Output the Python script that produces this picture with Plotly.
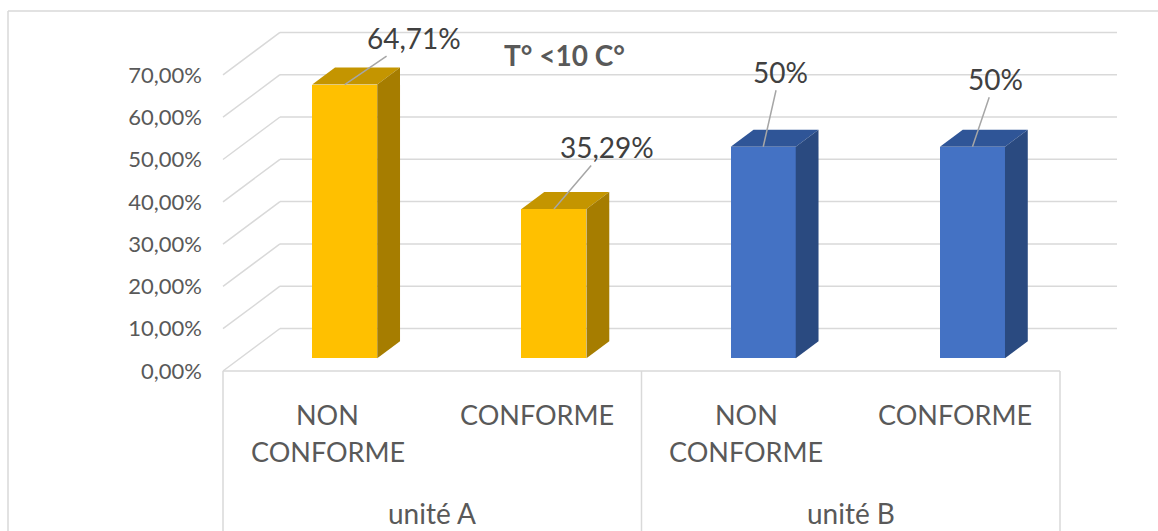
import plotly.graph_objects as go

# ---------------- data ----------------
CATEGORIES = ["NON CONFORME", "CONFORME", "NON CONFORME", "CONFORME"]
GROUPS = ["unité A", "unité B"]
VALUES = [64.71, 35.29, 50, 50]
Y_TICKS = [0, 10, 20, 30, 40, 50, 60, 70]
TITLE = "T° <10 C°"

# ---------------- style ----------------
FRONT = ["#FFC000", "#FFC000", "#4472C4", "#4472C4"]
TOP = ["#C49500", "#C49500", "#2F5597", "#2F5597"]
SIDE = ["#A67D00", "#A67D00", "#2A4A80", "#2A4A80"]
LABEL_OFFSETS = [(69, -47), (53, -62), (17, -75), (23, -68)]  # pixel offsets of data labels
GRID = "#D9D9D9"
FONT = "Lato"

W_FIG, H_FIG = 1158, 531
L_MARGIN = 205
X0_PX, CAT_PX = 223.0, 209.25      # left edge of category band, px per category
Y0_PX, PCT_PX = 371.0, 4.23        # pixel of 0 %, px per percent
DEPTH_DX = 57.0 / CAT_PX           # depth offset in category units
DEPTH_DV = 42.5 / PCT_PX           # depth offset in percent units
BAR_D0, BAR_D1 = 0.3, 0.7          # bar depth span
BAR_W = 65.0 / CAT_PX


def x_of_px(px):
    return (px - X0_PX) / CAT_PX - 0.5


def y_of_px(py):
    return (Y0_PX - py) / PCT_PX


n = len(CATEGORIES)
x_left, x_right = -0.5, n - 0.5
x_range = [x_of_px(L_MARGIN), x_of_px(W_FIG)]
y_range = [y_of_px(H_FIG), y_of_px(0)]

fig = go.Figure()

# front faces of bars (real bar trace)
bar_x = [i + BAR_D0 * DEPTH_DX for i in range(n)]
fig.add_trace(go.Bar(
    x=bar_x, y=VALUES, base=[BAR_D0 * DEPTH_DV] * n, width=BAR_W,
    marker=dict(color=FRONT, line=dict(width=0)), hoverinfo="skip", showlegend=False,
))

# top and side faces
dd = BAR_D1 - BAR_D0
for i, v in enumerate(VALUES):
    xl = bar_x[i] - BAR_W / 2
    xr = bar_x[i] + BAR_W / 2
    base = BAR_D0 * DEPTH_DV
    top = v + base
    ox, oy = dd * DEPTH_DX, dd * DEPTH_DV
    fig.add_trace(go.Scatter(
        x=[xl, xr, xr + ox, xl + ox, xl], y=[top, top, top + oy, top + oy, top],
        fill="toself", fillcolor=TOP[i], mode="lines", line=dict(width=0, color=TOP[i]),
        hoverinfo="skip", showlegend=False,
    ))
    fig.add_trace(go.Scatter(
        x=[xr, xr, xr + ox, xr + ox, xr], y=[base, top, top + oy, base + oy, base],
        fill="toself", fillcolor=SIDE[i], mode="lines", line=dict(width=0, color=SIDE[i]),
        hoverinfo="skip", showlegend=False,
    ))

shapes = []
# back wall gridlines + left wall diagonals
for t in Y_TICKS:
    shapes.append(dict(type="line", xref="x", yref="y", layer="below",
                       x0=x_left + DEPTH_DX, x1=x_right + DEPTH_DX,
                       y0=t + DEPTH_DV, y1=t + DEPTH_DV,
                       line=dict(color=GRID, width=1.5)))
    shapes.append(dict(type="line", xref="x", yref="y", layer="below",
                       x0=x_left, x1=x_left + DEPTH_DX, y0=t, y1=t + DEPTH_DV,
                       line=dict(color=GRID, width=1.5)))
# floor front edge & category box
shapes.append(dict(type="line", xref="x", yref="y", layer="below",
                   x0=x_left, x1=x_right, y0=0, y1=0, line=dict(color=GRID, width=1.5)))
per_group = n // len(GROUPS)
for g in range(len(GROUPS) + 1):
    xb = x_left + g * per_group
    shapes.append(dict(type="line", xref="x", yref="y", layer="below",
                       x0=xb, x1=xb, y0=0, y1=y_range[0],
                       line=dict(color=GRID, width=1.5)))
# outer chart border
W_PLOT = W_FIG - L_MARGIN
bx = (8 - L_MARGIN) / W_PLOT
by = 1 - 11 / H_FIG
shapes.append(dict(type="line", xref="paper", yref="paper", x0=bx, x1=bx, y0=0, y1=by,
                   line=dict(color=GRID, width=1.5)))
shapes.append(dict(type="line", xref="paper", yref="paper", x0=bx, x1=1.01, y0=by, y1=by,
                   line=dict(color=GRID, width=1.5)))

annotations = []


def fmt_pct(v):
    if float(v).is_integer():
        return f"{int(v)}%"
    return f"{v:.2f}".replace(".", ",") + "%"


# data labels with leader lines
for i, v in enumerate(VALUES):
    ax, ay = LABEL_OFFSETS[i]
    annotations.append(dict(
        x=bar_x[i], y=v + BAR_D0 * DEPTH_DV, xref="x", yref="y",
        text=fmt_pct(v), showarrow=True, arrowhead=0, arrowwidth=1.5,
        arrowcolor="#A6A6A6", ax=ax, ay=ay, standoff=0,
        font=dict(family=FONT, size=28, color="#404040"),
    ))

# category labels
LINE_PX = [414, 451]
for i, c in enumerate(CATEGORIES):
    lines = c.split(" ")
    for k, ln in enumerate(lines):
        annotations.append(dict(
            x=i, y=y_of_px(LINE_PX[k]), xref="x", yref="y", text=ln, showarrow=False,
            xanchor="center", yanchor="middle",
            font=dict(family=FONT, size=27, color="#595959"),
        ))
# group labels
for g, name in enumerate(GROUPS):
    annotations.append(dict(
        x=x_left + (g + 0.5) * per_group, y=y_of_px(513), xref="x", yref="y",
        text=name, showarrow=False, xanchor="center", yanchor="middle",
        font=dict(family=FONT, size=28, color="#595959"),
    ))

# title
annotations.append(dict(
    x=x_of_px(564), y=y_of_px(55), xref="x", yref="y", text=f"<b>{TITLE}</b>",
    showarrow=False, xanchor="center", yanchor="middle",
    font=dict(family=FONT, size=28, color="#595959"),
))

fig.update_layout(
    width=W_FIG, height=H_FIG,
    margin=dict(l=L_MARGIN, r=0, t=0, b=0),
    paper_bgcolor="white", plot_bgcolor="white",
    showlegend=False, shapes=shapes, annotations=annotations,
    xaxis=dict(range=x_range, visible=False, fixedrange=True),
    yaxis=dict(range=y_range, tickvals=Y_TICKS,
               ticktext=[f"{t:.2f}".replace(".", ",") + "%" for t in Y_TICKS],
               showgrid=False, zeroline=False, showline=False, ticks="",
               ticklabelstandoff=2,
               tickfont=dict(family=FONT, size=22, color="#595959"), fixedrange=True),
    bargap=0,
)

fig.write_html("out.html")
